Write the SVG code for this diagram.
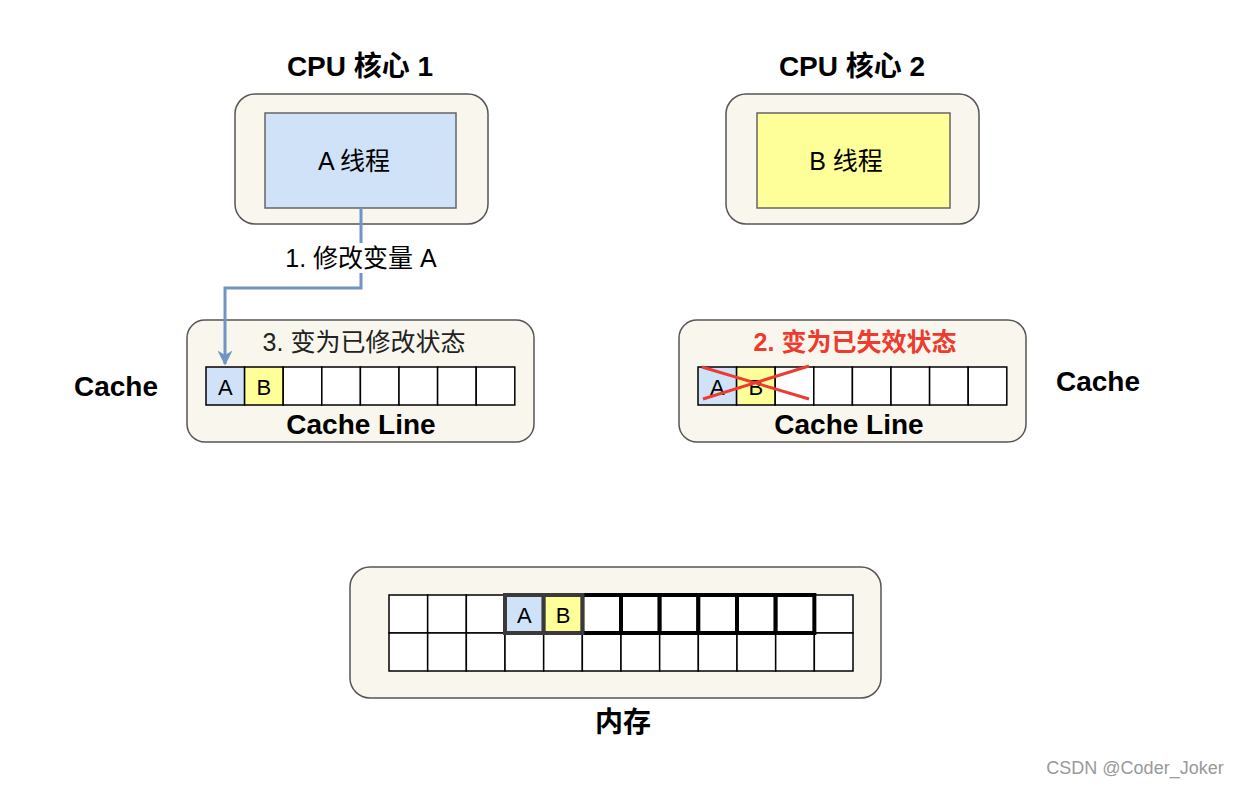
<svg xmlns="http://www.w3.org/2000/svg" width="1240" height="786" viewBox="0 0 1240 786">
<style>
.outer{fill:#f9f7ed;stroke:#555;stroke-width:1.5}
.cell{fill:#fff;stroke:#000;stroke-width:1.5}
.t{font-family:"Liberation Sans","Noto Sans CJK SC",sans-serif;fill:#000;text-anchor:middle;dominant-baseline:central}
.b{font-weight:bold}
</style>
<defs>
<marker id="arr" viewBox="0 0 10 10" refX="9" refY="5" markerWidth="5" markerHeight="5" orient="auto" markerUnits="strokeWidth">
<path d="M0,0 L10,5 L0,10 L3,5 Z" fill="#7094c4"/>
</marker>
</defs>
<rect width="1240" height="786" fill="#fff"/>

<g id="cpu1">
<text class="t b" x="360" y="66" font-size="28">CPU 核心 1</text>
<rect class="outer" x="235" y="94" width="253" height="130" rx="20"/>
<rect x="265" y="113" width="191" height="95" fill="#cfe2f8" stroke="#666" stroke-width="1.5"/>
<text class="t" x="354" y="161" font-size="25">A 线程</text>
</g>

<g id="cpu2">
<text class="t b" x="852" y="66" font-size="28">CPU 核心 2</text>
<rect class="outer" x="726" y="94" width="253" height="130" rx="20"/>
<rect x="757" y="113" width="193" height="95" fill="#ffff99" stroke="#666" stroke-width="1.5"/>
<text class="t" x="846" y="161" font-size="25">B 线程</text>
</g>

<g id="cache1">
<text class="t b" x="116" y="386" font-size="28">Cache</text>
<rect class="outer" x="187" y="320" width="347" height="122" rx="18"/>
<text class="t" x="364" y="342" font-size="25" style="fill:#222">3. 变为已修改状态</text>
<rect class="cell" x="206" y="367" width="38.6" height="38" style="fill:#cfe2f8"/>
<rect class="cell" x="244.6" y="367" width="38.6" height="38" style="fill:#ffff99"/>
<rect class="cell" x="283.2" y="367" width="38.6" height="38"/>
<rect class="cell" x="321.8" y="367" width="38.6" height="38"/>
<rect class="cell" x="360.4" y="367" width="38.6" height="38"/>
<rect class="cell" x="399" y="367" width="38.6" height="38"/>
<rect class="cell" x="437.6" y="367" width="38.6" height="38"/>
<rect class="cell" x="476.2" y="367" width="38.6" height="38"/>
<text class="t" x="225.3" y="387" font-size="22">A</text>
<text class="t" x="263.9" y="387" font-size="22">B</text>
<text class="t b" x="361" y="424" font-size="28">Cache Line</text>
</g>

<g id="cache2">
<text class="t b" x="1098" y="381" font-size="28">Cache</text>
<rect class="outer" x="679" y="320" width="347" height="122" rx="18"/>
<text class="t b" x="855" y="342" font-size="25" style="fill:#ee3b30">2. 变为已失效状态</text>
<rect class="cell" x="698" y="367" width="38.6" height="38" style="fill:#cfe2f8"/>
<rect class="cell" x="736.6" y="367" width="38.6" height="38" style="fill:#ffff99"/>
<rect class="cell" x="775.2" y="367" width="38.6" height="38"/>
<rect class="cell" x="813.8" y="367" width="38.6" height="38"/>
<rect class="cell" x="852.4" y="367" width="38.6" height="38"/>
<rect class="cell" x="891" y="367" width="38.6" height="38"/>
<rect class="cell" x="929.6" y="367" width="38.6" height="38"/>
<rect class="cell" x="968.2" y="367" width="38.6" height="38"/>
<text class="t" x="717.3" y="387" font-size="22">A</text>
<text class="t" x="755.9" y="387" font-size="22">B</text>
<line x1="703" y1="399" x2="809" y2="366" stroke="#ee3b30" stroke-width="3"/>
<line x1="702" y1="367" x2="809" y2="399" stroke="#ee3b30" stroke-width="3"/>
<text class="t b" x="849" y="424" font-size="28">Cache Line</text>
</g>

<g id="memory">
<rect class="outer" x="350" y="567" width="531" height="131" rx="20"/>
<g id="grid">
<rect class="cell" x="389" y="595" width="38.67" height="38"/>
<rect class="cell" x="427.67" y="595" width="38.67" height="38"/>
<rect class="cell" x="466.33" y="595" width="38.67" height="38"/>
<rect class="cell" x="814.33" y="595" width="38.67" height="38"/>
<rect class="cell" x="389" y="633" width="38.67" height="38"/>
<rect class="cell" x="427.67" y="633" width="38.67" height="38"/>
<rect class="cell" x="466.33" y="633" width="38.67" height="38"/>
<rect class="cell" x="505" y="633" width="38.67" height="38"/>
<rect class="cell" x="543.67" y="633" width="38.67" height="38"/>
<rect class="cell" x="582.33" y="633" width="38.67" height="38"/>
<rect class="cell" x="621" y="633" width="38.67" height="38"/>
<rect class="cell" x="659.67" y="633" width="38.67" height="38"/>
<rect class="cell" x="698.33" y="633" width="38.67" height="38"/>
<rect class="cell" x="737" y="633" width="38.67" height="38"/>
<rect class="cell" x="775.67" y="633" width="38.67" height="38"/>
<rect class="cell" x="814.33" y="633" width="38.67" height="38"/>
</g>
<g id="line" stroke-width="4">
<rect x="582.33" y="595" width="38.67" height="38" fill="#fff" stroke="#000"/>
<rect x="621" y="595" width="38.67" height="38" fill="#fff" stroke="#000"/>
<rect x="659.67" y="595" width="38.67" height="38" fill="#fff" stroke="#000"/>
<rect x="698.33" y="595" width="38.67" height="38" fill="#fff" stroke="#000"/>
<rect x="737" y="595" width="38.67" height="38" fill="#fff" stroke="#000"/>
<rect x="775.67" y="595" width="38.67" height="38" fill="#fff" stroke="#000"/>
<rect x="505" y="595" width="38.67" height="38" fill="#cfe2f8" stroke="#3a3a3a"/>
<rect x="543.67" y="595" width="38.67" height="38" fill="#ffff99" stroke="#3a3a3a"/>
</g>
<text class="t" x="524.3" y="615" font-size="22">A</text>
<text class="t" x="563" y="615" font-size="22">B</text>
<text class="t b" x="623" y="722" font-size="28">内存</text>
</g>

<g id="connectors">
<path d="M361,208 V288 H225 V364" fill="none" stroke="#7094c4" stroke-width="3" marker-end="url(#arr)"/>
<rect x="278" y="243" width="166" height="30" fill="#fff"/>
<text class="t" x="361" y="258" font-size="25">1. 修改变量 A</text>
</g>

<text x="1135" y="768" font-family="Liberation Sans, sans-serif" font-size="18" fill="#999" text-anchor="middle" dominant-baseline="central">CSDN @Coder_Joker</text>
</svg>
